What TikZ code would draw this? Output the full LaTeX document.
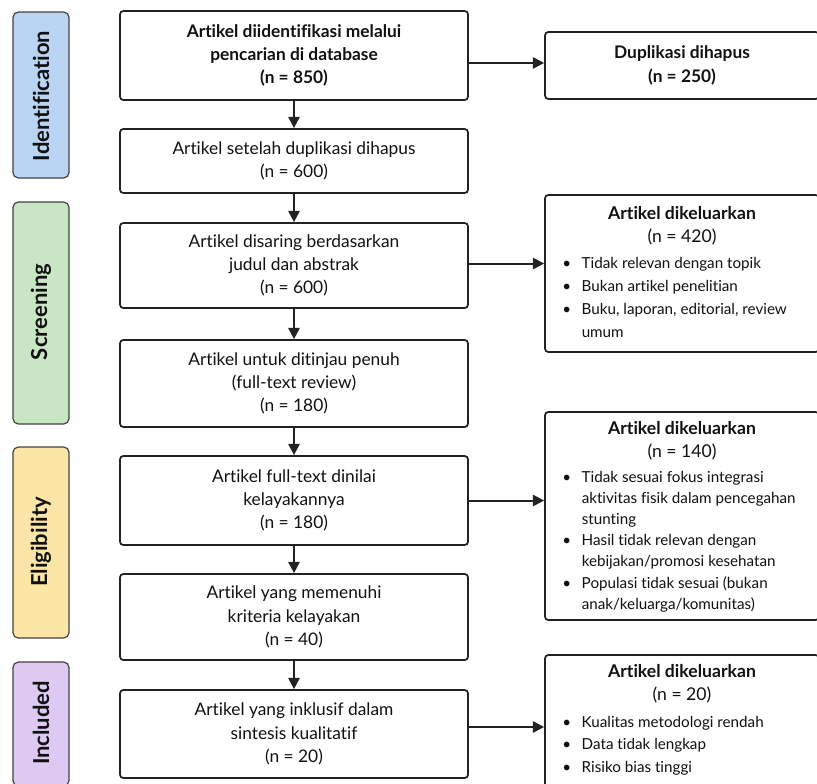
\documentclass[tikz,border=0pt]{standalone}
\usepackage{fontspec}
\setmainfont[Ligatures={NoCommon}]{Lato}
\usetikzlibrary{arrows.meta}
\definecolor{idc}{HTML}{BAD5F4}
\definecolor{scc}{HTML}{C8E6C3}
\definecolor{elc}{HTML}{FBE6A8}
\definecolor{inc}{HTML}{DCCAF2}
\definecolor{linec}{HTML}{222222}
\definecolor{txtc}{HTML}{111111}
\begin{document}
\begin{tikzpicture}[x=0.75pt,y=-0.75pt,
  sz/.style 2 args={minimum width=#1*0.75pt, minimum height=#2*0.75pt},
  mainbox/.style={draw=linec, line width=1.3pt, rounded corners=2.5pt, fill=white,
    align=center, inner sep=0pt, text=txtc, font=\fontsize{13}{17.5}\selectfont},
  exbox/.style={draw=linec, line width=1.3pt, rounded corners=2.5pt, fill=white, inner sep=0pt},
  bar/.style={draw=linec!85, line width=0.9pt, rounded corners=4pt, inner sep=0pt},
  barlabel/.style={rotate=90, font=\fontsize{16.5}{18}\selectfont\bfseries, text=txtc},
  extitle/.style={anchor=north, align=center, inner sep=0pt, text=txtc, font=\fontsize{13.2}{17.25}\selectfont},
  exlist/.style={anchor=north west, inner sep=0pt, text=txtc},
  arr/.style={draw=linec, line width=1.5pt, -{Triangle[length=8.5pt,width=8.5pt]}}
]
\useasboundingbox (0,0) rectangle (817,783);
\clip (0,0) rectangle (817,783);
\fill[white] (0,0) rectangle (817,783);

% phase bars
\node[bar, fill=idc, sz={56}{166}] (pid) at (41,95) {};
\node[bar, fill=scc, sz={56}{222}] (psc) at (41,313) {};
\node[bar, fill=elc, sz={56}{191}] (pel) at (41,542.5) {};
\node[bar, fill=inc, sz={56}{124}] (pin) at (41,724) {};
\node[barlabel] (lid) at (41,96) {Identification};
\node[barlabel] (lsc) at (41,312) {Screening};
\node[barlabel] (lel) at (41,542) {Eligibility};
\node[barlabel] (lin) at (41,723) {Included};

% main column
\node[mainbox, sz={348}{89}] (b1) at (294,55.5) {\bfseries Artikel diidentifikasi melalui\\\bfseries pencarian di database\\\bfseries (n = 850)};
\node[mainbox, sz={348}{64}] (b2) at (294,161) {Artikel setelah duplikasi dihapus\\(n = 600)};
\node[mainbox, sz={348}{85}] (b3) at (294,265.5) {Artikel disaring berdasarkan\\judul dan abstrak\\(n = 600)};
\node[mainbox, sz={348}{87}] (b4) at (294,383.5) {Artikel untuk ditinjau penuh\\(full-text review)\\(n = 180)};
\node[mainbox, sz={348}{89}] (b5) at (294,500.5) {Artikel full-text dinilai\\kelayakannya\\(n = 180)};
\node[mainbox, sz={348}{86}] (b6) at (294,617) {Artikel yang memenuhi\\kriteria kelayakan\\(n = 40)};
\node[mainbox, sz={348}{88}] (b7) at (294,734) {Artikel yang inklusif dalam\\sintesis kualitatif\\(n = 20)};

% right column
\node[mainbox, sz={274}{67}] (dup) at (682,65.5) {\bfseries Duplikasi dihapus\\\bfseries(n = 250)};
\node[exbox, sz={274}{157}] (ex1) at (682,273.5) {};
\node[exbox, sz={274}{208}] (ex2) at (682,516) {};
\node[exbox, sz={274}{160}] (ex3) at (682,735) {};

\node[extitle] (t1) at (682,206) {\textbf{Artikel dikeluarkan}\\(n = 420)};
\node[exlist, font=\fontsize{11.4}{17.25}\selectfont] (l1) at (562,252)
 {\begin{tabular}{@{}l@{\hspace{8pt}}l@{}}
 \textbullet & Tidak relevan dengan topik\\
 \textbullet & Bukan artikel penelitian\\
 \textbullet & Buku, laporan, editorial, review\\
  & umum
 \end{tabular}};

\node[extitle] (t2) at (682,421) {\textbf{Artikel dikeluarkan}\\(n = 140)};
\node[exlist, font=\fontsize{11.4}{15.9}\selectfont] (l2) at (562,467)
 {\begin{tabular}{@{}l@{\hspace{8pt}}l@{}}
 \textbullet & Tidak sesuai fokus integrasi\\
  & aktivitas fisik dalam pencegahan\\
  & stunting\\
 \textbullet & Hasil tidak relevan dengan\\
  & kebijakan/promosi kesehatan\\
 \textbullet & Populasi tidak sesuai (bukan\\
  & anak/keluarga/komunitas)
 \end{tabular}};

\node[extitle] (t3) at (682,664) {\textbf{Artikel dikeluarkan}\\(n = 20)};
\node[exlist, font=\fontsize{11.4}{17.0}\selectfont] (l3) at (562,711)
 {\begin{tabular}{@{}l@{\hspace{8pt}}l@{}}
 \textbullet & Kualitas metodologi rendah\\
 \textbullet & Data tidak lengkap\\
 \textbullet & Risiko bias tinggi
 \end{tabular}};

% connectors
\draw[arr] (b1) -- (b2);
\draw[arr] (b2) -- (b3);
\draw[arr] (b3) -- (b4);
\draw[arr] (b4) -- (b5);
\draw[arr] (b5) -- (b6);
\draw[arr] (b6) -- (b7);
\draw[arr] ([yshift=-5.6pt]b1.east) -- ([yshift=-5.6pt]b1.east -| dup.west);
\draw[arr] ([yshift=1.5pt]b3.east) -- ([yshift=1.5pt]b3.east -| ex1.west);
\draw[arr] (b5.east) -- (b5.east -| ex2.west);
\draw[arr] ([yshift=5.25pt]b7.east) -- ([yshift=5.25pt]b7.east -| ex3.west);
\end{tikzpicture}
\end{document}
